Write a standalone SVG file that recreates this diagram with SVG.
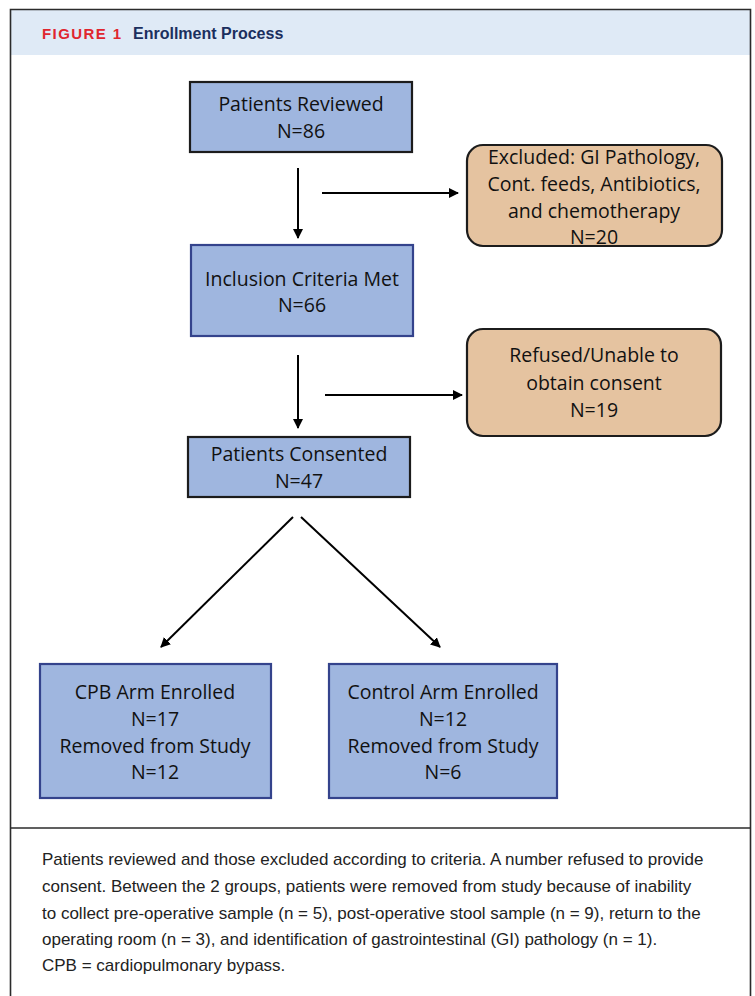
<svg xmlns="http://www.w3.org/2000/svg" width="755" height="996" viewBox="0 0 755 996">
<defs>
<marker id="ah" markerWidth="10" markerHeight="10" refX="9" refY="5" orient="auto" markerUnits="userSpaceOnUse" viewBox="0 0 10 10">
<path d="M0,0 L10,5 L0,10 Z" fill="#000"/>
</marker>
<style>
.frame{fill:none;stroke:#2b2b2b;stroke-width:1.6}
.box{fill:#9fb6df;stroke-width:2.2}
.dark{stroke:#1c1c1c}
.navy{stroke:#34438c}
.tan{fill:#e5c3a0;stroke:#1c1c1c;stroke-width:2.2}
.t{font-family:"Open Sans","Liberation Sans",sans-serif;font-size:19.5px;fill:#111;text-anchor:middle}
.cap{font-family:"Liberation Sans",Arial,sans-serif;font-size:17px;fill:#222}
.conn line{stroke:#000;stroke-width:2;marker-end:url(#ah)}
</style>
</defs>
<rect x="0" y="0" width="755" height="996" fill="#fff"/>
<rect x="11" y="10" width="739" height="45" fill="#dfeaf6"/>
<path class="frame" d="M10.5,996 V9.5 H750.5 V996"/>
<line x1="10" y1="828" x2="751" y2="828" stroke="#2b2b2b" stroke-width="1.6"/>
<text x="42" y="39" font-family="'Liberation Sans',Arial,sans-serif" font-weight="bold" font-size="15" fill="#e0262f" letter-spacing="1.4">FIGURE 1</text>
<text x="133" y="39" font-family="'Liberation Sans',Arial,sans-serif" font-weight="bold" font-size="16" fill="#1b2f5e">Enrollment Process</text>

<g id="patients-reviewed">
<rect class="box dark" x="190" y="82" width="222" height="70"/>
<text class="t" x="301" y="111">Patients Reviewed</text>
<text class="t" x="301" y="138">N=86</text>
</g>
<g id="excluded">
<rect class="tan" x="467" y="145" width="255" height="101" rx="16"/>
<text class="t" x="594" y="164">Excluded: GI Pathology,</text>
<text class="t" x="594" y="191">Cont. feeds, Antibiotics,</text>
<text class="t" x="594" y="218">and chemotherapy</text>
<text class="t" x="594" y="244">N=20</text>
</g>
<g id="inclusion">
<rect class="box navy" x="191" y="245" width="222" height="91"/>
<text class="t" x="302" y="286">Inclusion Criteria Met</text>
<text class="t" x="302" y="312">N=66</text>
</g>
<g id="refused">
<rect class="tan" x="467" y="329" width="254" height="107" rx="16"/>
<text class="t" x="594" y="362">Refused/Unable to</text>
<text class="t" x="594" y="390">obtain consent</text>
<text class="t" x="594" y="417">N=19</text>
</g>
<g id="consented">
<rect class="box dark" x="188" y="437" width="222" height="60"/>
<text class="t" x="299" y="461">Patients Consented</text>
<text class="t" x="299" y="488">N=47</text>
</g>
<g id="cpb">
<rect class="box navy" x="40" y="664" width="231" height="134"/>
<text class="t" x="155" y="699">CPB Arm Enrolled</text>
<text class="t" x="155" y="726">N=17</text>
<text class="t" x="155" y="753">Removed from Study</text>
<text class="t" x="155" y="779">N=12</text>
</g>
<g id="control">
<rect class="box navy" x="329" y="664" width="228" height="134"/>
<text class="t" x="443" y="699">Control Arm Enrolled</text>
<text class="t" x="443" y="726">N=12</text>
<text class="t" x="443" y="753">Removed from Study</text>
<text class="t" x="443" y="779">N=6</text>
</g>

<g id="connectors" class="conn">
<line x1="298" y1="168" x2="298" y2="238"/>
<line x1="322" y1="193" x2="458" y2="193"/>
<line x1="298" y1="355" x2="298" y2="428"/>
<line x1="325" y1="395" x2="462" y2="395"/>
<line x1="293" y1="517" x2="161" y2="647"/>
<line x1="301" y1="517" x2="440" y2="647"/>
</g>

<g class="cap">
<text x="42" y="865">Patients reviewed and those excluded according to criteria. A number refused to provide</text>
<text x="42" y="892">consent. Between the 2 groups, patients were removed from study because of inability</text>
<text x="42" y="919">to collect pre-operative sample (n = 5), post-operative stool sample (n = 9), return to the</text>
<text x="42" y="945">operating room (n = 3), and identification of gastrointestinal (GI) pathology (n = 1).</text>
<text x="42" y="971">CPB = cardiopulmonary bypass.</text>
</g>
</svg>
